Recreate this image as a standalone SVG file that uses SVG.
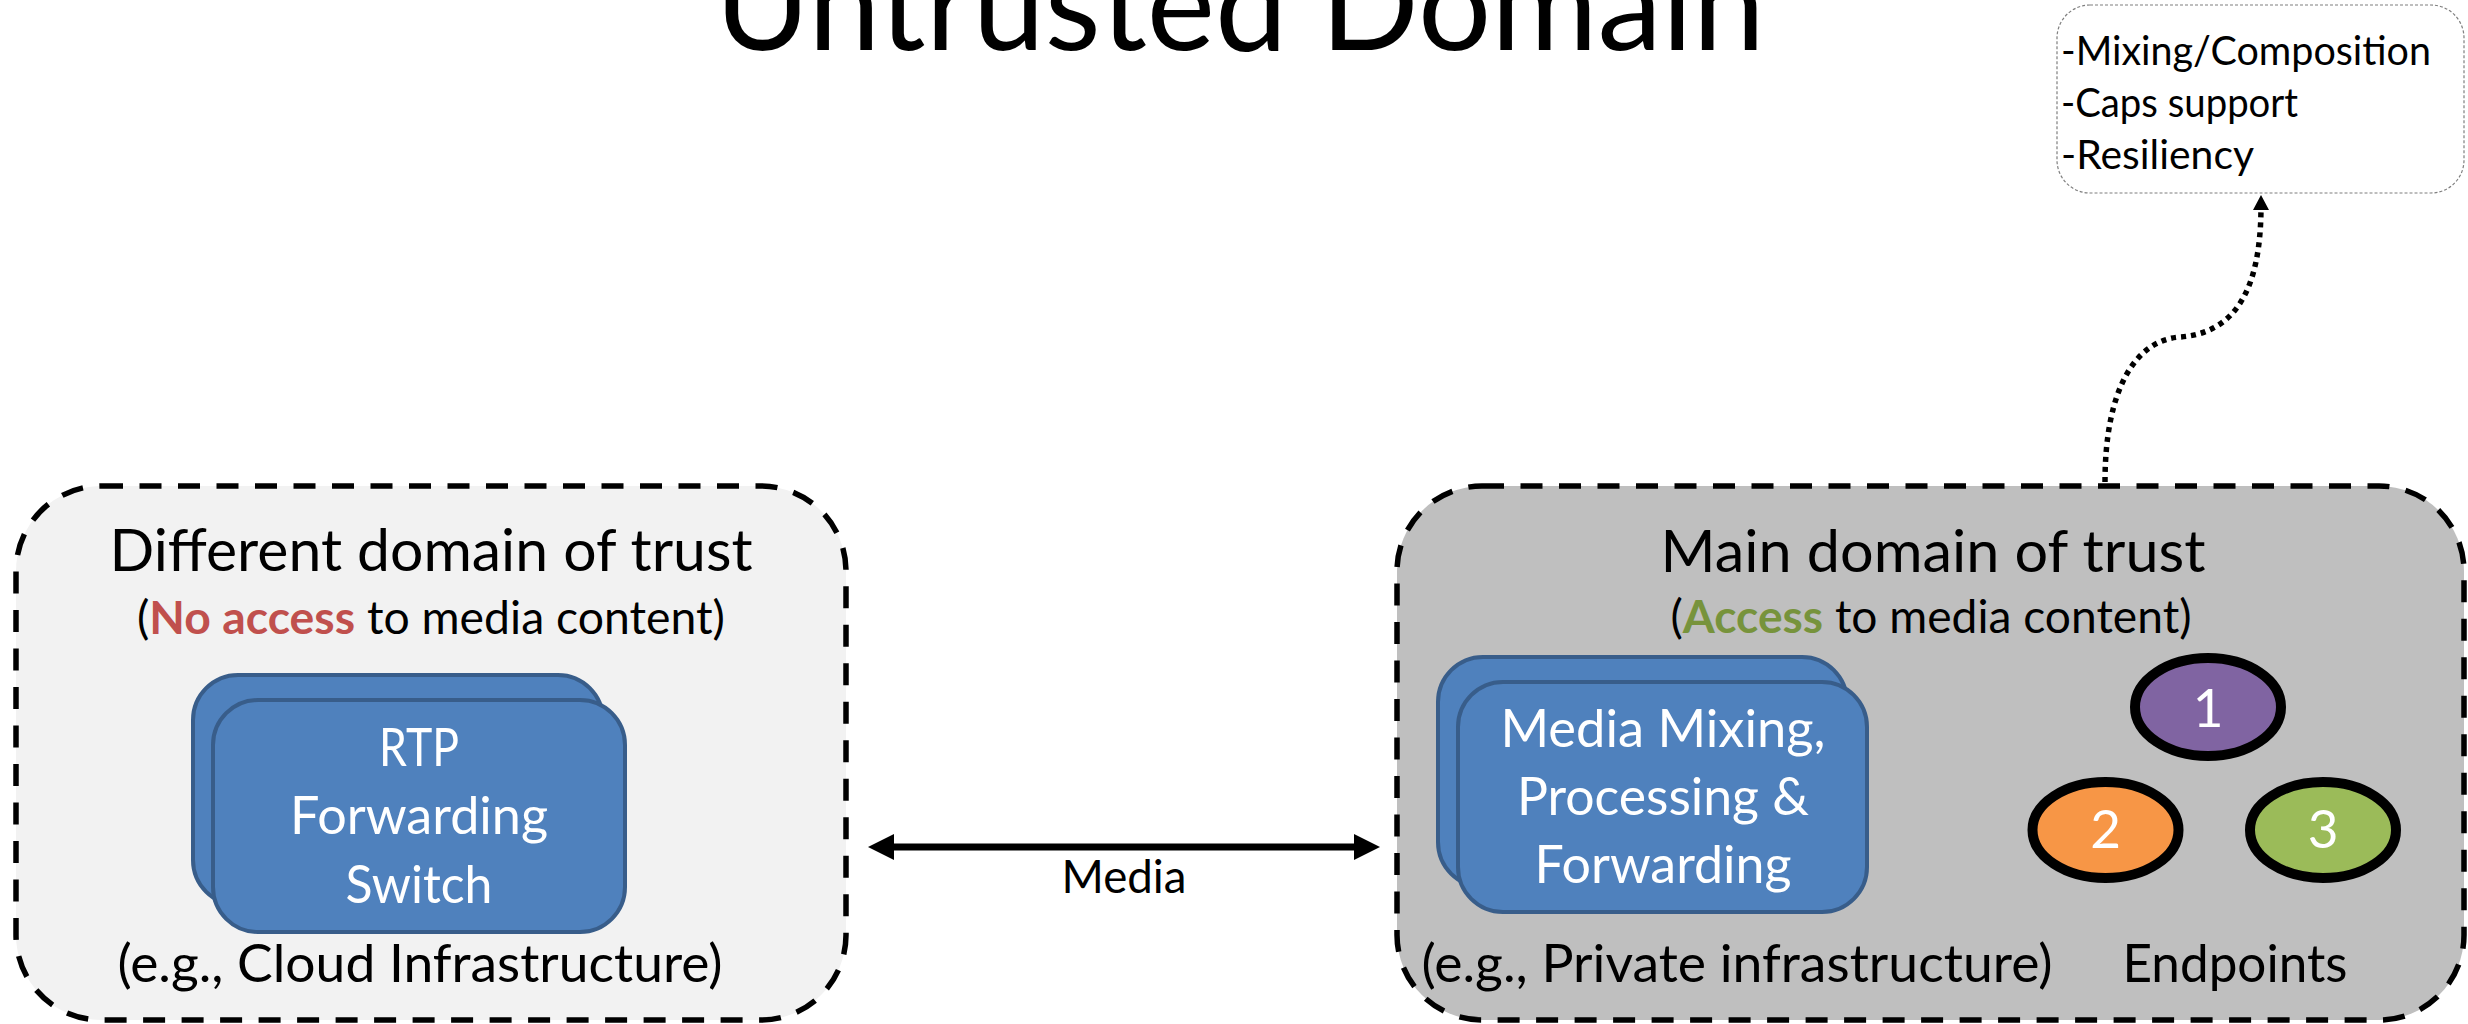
<svg xmlns="http://www.w3.org/2000/svg" width="2468" height="1024" viewBox="0 0 2468 1024">
<style>
text{font-family:Lato,"Open Sans","Liberation Sans",sans-serif;fill:#000}
.title{font-size:129px}
.hdr{font-size:59px}
.sub{font-size:46px}
.lbl{font-size:53px}
.wt{font-size:53px;fill:#fff}
.note{font-size:40px}
.domain{stroke:#000;stroke-width:5.5;stroke-dasharray:22 16.5}
.blue{fill:#4F81BD;stroke:#385D8A;stroke-width:4}
.ep{stroke:#000;stroke-width:10}
.b{font-weight:bold}
</style>
<defs>
<marker id="ah" markerUnits="userSpaceOnUse" markerWidth="26" markerHeight="26" refX="4" refY="13" orient="auto-start-reverse">
<path d="M0,0 L26,13 L0,26 z" fill="#000"/>
</marker>
<marker id="ah2" markerUnits="userSpaceOnUse" markerWidth="16" markerHeight="16" refX="4" refY="8" orient="auto">
<path d="M0,0 L15,8 L0,16 z" fill="#000"/>
</marker>
</defs>
<rect width="2468" height="1024" fill="#fff"/>
<text class="title" x="1240" y="50" text-anchor="middle" textLength="1050" lengthAdjust="spacingAndGlyphs">Untrusted Domain</text>

<g id="different-domain">
<rect class="domain" x="16" y="486" width="830" height="534" rx="85" fill="#F2F2F2"/>
<text class="hdr" x="431" y="571" text-anchor="middle" textLength="643" lengthAdjust="spacingAndGlyphs">Different domain of trust</text>
<text class="sub" x="431" y="634" text-anchor="middle" textLength="588" lengthAdjust="spacingAndGlyphs">(<tspan class="b" fill="#C0504D">No access</tspan> to media content)</text>
<text class="lbl" x="420" y="982" text-anchor="middle" textLength="605" lengthAdjust="spacingAndGlyphs">(e.g., Cloud Infrastructure)</text>
</g>
<g id="rtp-switch">
<rect class="blue" x="193" y="675" width="410" height="230" rx="45"/>
<rect class="blue" x="213" y="700" width="412" height="232" rx="45"/>
<text class="wt" x="419" y="766" text-anchor="middle" textLength="80" lengthAdjust="spacingAndGlyphs">RTP</text>
<text class="wt" x="419" y="834" text-anchor="middle" textLength="258" lengthAdjust="spacingAndGlyphs">Forwarding</text>
<text class="wt" x="419" y="903" text-anchor="middle" textLength="147" lengthAdjust="spacingAndGlyphs">Switch</text>
</g>

<g id="main-domain">
<rect class="domain" x="1397" y="486" width="1067" height="534" rx="85" fill="#BFBFBF"/>
<text class="hdr" x="1933" y="572" text-anchor="middle" textLength="545" lengthAdjust="spacingAndGlyphs">Main domain of trust</text>
<text class="sub" x="1931" y="633" text-anchor="middle" textLength="521" lengthAdjust="spacingAndGlyphs">(<tspan class="b" fill="#77933C">Access</tspan> to media content)</text>
<text class="lbl" x="1737" y="982" text-anchor="middle" textLength="631" lengthAdjust="spacingAndGlyphs">(e.g., Private infrastructure)</text>
<text class="lbl" x="2235" y="982" text-anchor="middle" textLength="225" lengthAdjust="spacingAndGlyphs">Endpoints</text>
</g>
<g id="media-mixer">
<rect class="blue" x="1438" y="657" width="409" height="230" rx="45"/>
<rect class="blue" x="1458" y="682" width="409" height="230" rx="45"/>
<text class="wt" x="1663" y="747" text-anchor="middle" textLength="325" lengthAdjust="spacingAndGlyphs">Media Mixing,</text>
<text class="wt" x="1663" y="815" text-anchor="middle" textLength="292" lengthAdjust="spacingAndGlyphs">Processing &amp;</text>
<text class="wt" x="1663" y="883" text-anchor="middle" textLength="257" lengthAdjust="spacingAndGlyphs">Forwarding</text>
</g>
<g id="endpoint-1">
<ellipse class="ep" cx="2208" cy="707" rx="73" ry="49" fill="#8064A2"/>
<text class="wt" x="2208" y="727" text-anchor="middle">1</text>
</g>
<g id="endpoint-2">
<ellipse class="ep" cx="2105.5" cy="830" rx="73" ry="48" fill="#F79646"/>
<text class="wt" x="2105.5" y="848" text-anchor="middle">2</text>
</g>
<g id="endpoint-3">
<ellipse class="ep" cx="2323" cy="830" rx="73" ry="48" fill="#9BBB59"/>
<text class="wt" x="2323" y="848" text-anchor="middle">3</text>
</g>

<g id="features-note">
<rect x="2057" y="5" width="407" height="188" rx="33" fill="#fff" stroke="#7F7F7F" stroke-width="1.2" stroke-dasharray="3 2"/>
<text class="note" x="2061" y="65" textLength="370" lengthAdjust="spacingAndGlyphs">-Mixing/Composition</text>
<text class="note" x="2061" y="117" textLength="237" lengthAdjust="spacingAndGlyphs">-Caps support</text>
<text class="note" x="2061" y="169" textLength="193" lengthAdjust="spacingAndGlyphs">-Resiliency</text>
</g>

<g id="connectors">
<line x1="890" y1="847" x2="1358" y2="847" stroke="#000" stroke-width="7" marker-start="url(#ah)" marker-end="url(#ah)"/>
<text class="sub" x="1124" y="893" text-anchor="middle" textLength="125" lengthAdjust="spacingAndGlyphs">Media</text>
<path d="M2105,482 C2105,390 2135,340 2180,337 C2235,333 2261,290 2261,206" fill="none" stroke="#000" stroke-width="5.5" stroke-dasharray="5 5" marker-end="url(#ah2)"/>
</g>
</svg>
